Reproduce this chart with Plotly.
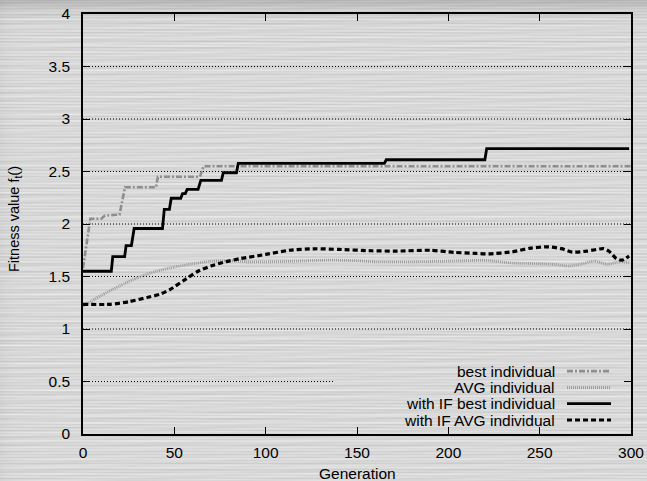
import base64, struct, zlib
import numpy as np
import plotly.graph_objects as go

# ---------------- data ----------------
best_gen = [0, 2, 4, 10, 12, 20, 23, 40, 41, 64, 66, 300]
best_val = [1.58, 1.80, 2.05, 2.05, 2.08, 2.09, 2.35, 2.35, 2.45, 2.45, 2.55, 2.55]

avg_gen = [0, 5, 10, 20, 30, 40, 50, 60, 70, 80, 90, 100, 115, 135, 150, 160, 180,
           200, 220, 235, 250, 258, 266, 272, 280, 287, 294, 299]
avg_val = [1.22, 1.27, 1.32, 1.41, 1.49, 1.55, 1.59, 1.62, 1.645, 1.65, 1.64, 1.64,
           1.645, 1.656, 1.65, 1.64, 1.64, 1.646, 1.653, 1.628, 1.622, 1.615, 1.60,
           1.615, 1.647, 1.615, 1.64, 1.632]

if_best_gen = [0, 15.5, 16.3, 22.8, 23.6, 26.5, 28, 43.5, 44.5, 47.3, 48.3, 53.5, 54.5,
               56, 57, 63, 64.5, 75.8, 76.8, 84, 85, 165, 166, 220, 221, 299]
if_best_val = [1.55, 1.55, 1.69, 1.69, 1.795, 1.795, 1.957, 1.957, 2.14, 2.14, 2.245,
               2.245, 2.29, 2.29, 2.33, 2.33, 2.415, 2.415, 2.488, 2.488, 2.578, 2.578,
               2.612, 2.612, 2.718, 2.718]

if_avg_gen = [0, 15, 25, 35, 42, 48, 55, 63, 70, 78, 86, 100, 113, 127, 140, 158, 172,
              190, 203, 215, 222, 235, 245, 255, 262, 268, 276, 285, 288, 292, 295, 299]
if_avg_val = [1.235, 1.235, 1.26, 1.30, 1.33, 1.38, 1.46, 1.55, 1.60, 1.64, 1.67, 1.71,
              1.75, 1.764, 1.758, 1.745, 1.742, 1.75, 1.73, 1.72, 1.715, 1.735, 1.77,
              1.783, 1.765, 1.732, 1.742, 1.765, 1.74, 1.67, 1.656, 1.694]

x_ticks = [0, 50, 100, 150, 200, 250, 300]
y_ticks = [0, 0.5, 1, 1.5, 2, 2.5, 3, 3.5, 4]
grid_full = [1, 1.5, 2, 2.5, 3, 3.5]
grid_short = (0.5, 137)   # gridline at 0.5, hidden behind the key after x=137

legend_labels = ["best individual", "AVG individual", "with IF best individual",
                 "with IF AVG individual"]

W, H = 647, 481
L, R, T, B = 83, 16, 14, 47
PW, PH = W - L - R, H - T - B

# ---------------- brushed-metal background (deterministic pattern) ----------------
yy = np.arange(H, dtype=float)[:, None]
xx = np.arange(W, dtype=float)[None, :]
row = 217 + 6 * np.sin(yy * 2.1) + 4 * np.sin(yy * 0.73 + 0.5) + 3 * np.sin(yy * 5.3 + 1.2)
streak = 5 * np.sin(xx * 0.021 + yy * 1.37) * np.sin(yy * 3.1) + 3 * np.sin(xx * 0.047 + yy * 0.91 + 2)
shade = -40 * np.exp(-yy / 8.0) - 6 * np.exp(-xx / 10.0)
img = np.clip(row + streak + shade, 0, 255).astype(np.uint8)


def _chunk(t, d):
    return struct.pack(">I", len(d)) + t + d + struct.pack(">I", zlib.crc32(t + d) & 0xFFFFFFFF)


raw = b"".join(b"\x00" + img[r].tobytes() for r in range(H))
png = (b"\x89PNG\r\n\x1a\n" + _chunk(b"IHDR", struct.pack(">IIBBBBB", W, H, 8, 0, 0, 0, 0))
       + _chunk(b"IDAT", zlib.compress(raw, 9)) + _chunk(b"IEND", b""))
bg_uri = "data:image/png;base64," + base64.b64encode(png).decode()

# ---------------- styles ----------------
styles = [
    dict(color="#8e8e8e", width=2.6, dash="6px,2px,2px,2px"),
    dict(color="#9a9a9a", width=2.8, dash="1px,1px"),
    dict(color="#000000", width=2.8, dash="solid"),
    dict(color="#000000", width=3.2, dash="5px,3px"),
]

fig = go.Figure()
fig.add_trace(go.Scatter(x=best_gen, y=best_val, mode="lines", line=styles[0],
                         name=legend_labels[0], showlegend=False))
fig.add_trace(go.Scatter(x=avg_gen, y=avg_val, mode="lines",
                         line=dict(**styles[1], shape="spline", smoothing=0.6),
                         name=legend_labels[1], showlegend=False))
fig.add_trace(go.Scatter(x=if_best_gen, y=if_best_val, mode="lines", line=styles[2],
                         name=legend_labels[2], showlegend=False))
fig.add_trace(go.Scatter(x=if_avg_gen, y=if_avg_val, mode="lines",
                         line=dict(**styles[3], shape="spline", smoothing=0.6),
                         name=legend_labels[3], showlegend=False))

shapes = []
for g in grid_full:
    shapes.append(dict(type="line", xref="x", yref="y", x0=0, x1=300, y0=g, y1=g,
                       layer="below", line=dict(color="#000", width=1, dash="1px,2px")))
shapes.append(dict(type="line", xref="x", yref="y", x0=0, x1=grid_short[1],
                   y0=grid_short[0], y1=grid_short[0], layer="below",
                   line=dict(color="#000", width=1, dash="1px,2px")))

FONT = "Liberation Sans, Arial, Helvetica, sans-serif"
annotations = []
row_py = [371.1, 387.7, 403.7, 420.0]
for lab, py, st in zip(legend_labels, row_py, styles):
    yp = (H - B - py) / PH
    annotations.append(dict(text=lab, xref="paper", yref="paper", x=(557 - L) / PW, y=yp,
                            xanchor="right", yanchor="middle", showarrow=False,
                            font=dict(family=FONT, size=15.5, color="#000")))
    shapes.append(dict(type="line", xref="paper", yref="paper", x0=(567 - L) / PW,
                       x1=(611 - L) / PW, y0=yp, y1=yp, line=st))

annotations.append(dict(text="Generation", xref="paper", yref="paper", x=0.5,
                        y=(H - B - 473) / PH, xanchor="center", yanchor="middle",
                        showarrow=False, font=dict(family=FONT, size=15.5, color="#000")))
annotations.append(dict(text="Fitness value f<sub>t</sub>()", xref="paper", yref="paper",
                        x=(15 - L) / PW, y=(H - B - 219) / PH, xanchor="center",
                        yanchor="middle", textangle=-90, showarrow=False,
                        font=dict(family=FONT, size=14.5, color="#000")))

axis_common = dict(showgrid=False, zeroline=False, showline=True, linecolor="#000",
                   linewidth=1.6, mirror="ticks", ticks="inside", ticklen=7,
                   tickcolor="#000", tickwidth=1.2, automargin=False,
                   tickfont=dict(family=FONT, size=15.5, color="#000"))

fig.update_layout(
    template="none",
    width=W, height=H,
    margin=dict(l=L, r=R, t=T, b=B, pad=0, autoexpand=False),
    paper_bgcolor="#d6d6d6",
    plot_bgcolor="rgba(0,0,0,0)",
    xaxis=dict(range=[0, 300], tickvals=x_ticks, ticklabelstandoff=4, **axis_common),
    yaxis=dict(range=[0, 4], tickvals=y_ticks, ticktext=[f"{v:g}" for v in y_ticks],
               ticklabelstandoff=8, **axis_common),
    shapes=shapes,
    annotations=annotations,
    images=[dict(source=bg_uri, xref="paper", yref="paper", x=-L / PW, y=1 + T / PH,
                 sizex=W / PW, sizey=H / PH, sizing="stretch", xanchor="left",
                 yanchor="top", layer="below")],
    showlegend=False,
)

fig.write_html("out.html")
